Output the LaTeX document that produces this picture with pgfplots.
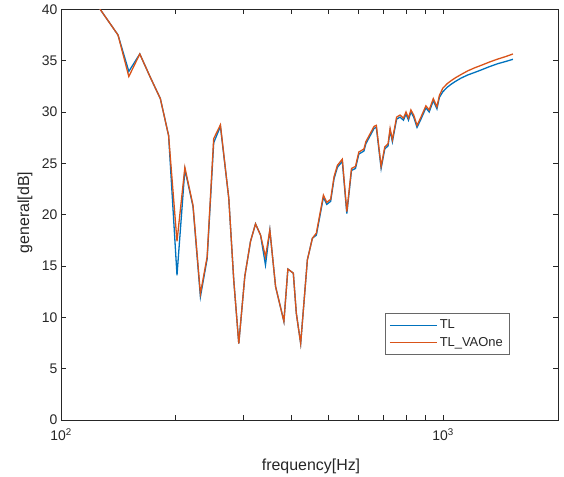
\documentclass[border=0pt]{standalone}
\usepackage{pgfplots}
\pgfplotsset{compat=1.18}
\usepackage{fontspec}
\setmainfont{Liberation Sans}
\definecolor{mblue}{rgb}{0,0.447,0.741}
\definecolor{morange}{rgb}{0.85,0.325,0.098}
\definecolor{axgray}{rgb}{0.15,0.15,0.15}

\pgfplotstableread{
f v
118 42.0
126.6 40.0
141 37.5
150.5 33.95
160.8 35.65
171.2 33.4
182 31.3
191.3 27.7
201.2 14.1
211 24.4
221.6 20.8
231.7 12.0
241.3 15.7
251 27.0
261.4 28.6
274.9 21.6
283.3 13.6
292 7.45
302.8 14.0
313.4 17.4
323 19.1
333 18.0
343 15.1
352.1 18.5
364.5 13.0
383.3 9.6
392.6 14.7
405.6 14.3
413 10.4
424 7.45
441.5 15.6
455 17.7
466 18.0
486.3 21.7
496.2 21.0
508 21.3
518.5 23.5
529 24.6
545 25.2
560 20.1
576 24.3
590 24.5
602 25.9
621 26.2
628 26.9
660 28.4
669 28.5
688.6 24.5
704 26.4
718 26.7
727 28.2
737 27.1
756 29.3
772 29.5
788 29.2
800 29.8
812 29.2
824 30.0
838 29.5
855 28.5
873 29.2
902 30.4
920 30.0
943 31.1
964 30.3
978 31.4
998 31.95
1025 32.4
1050 32.7
1080 33.0
1115 33.3
1160 33.6
1210 33.85
1260 34.1
1320 34.4
1390 34.7
1460 34.92
1524 35.13
}\dataTL

\pgfplotstableread{
f v
118 42.0
126.6 40.0
141 37.5
150.5 33.45
160.8 35.65
171.2 33.4
182 31.3
191.3 27.7
201.2 17.4
211 24.6
221.6 20.9
231.7 12.3
241.3 15.9
251 27.4
261.4 28.75
274.9 21.6
283.3 13.6
292 7.45
302.8 14.0
313.4 17.4
323 19.1
333 18.0
343 15.9
352.1 18.5
364.5 13.0
383.3 9.6
392.6 14.7
405.6 14.3
413 10.4
424 7.45
441.5 15.6
455 17.7
466 18.2
486.3 21.9
496.2 21.2
508 21.5
518.5 23.7
529 24.8
545 25.4
560 20.3
576 24.5
590 24.7
602 26.1
621 26.4
628 27.1
660 28.6
669 28.7
688.6 24.7
704 26.6
718 26.9
727 28.4
737 27.3
756 29.5
772 29.7
788 29.4
800 30.0
812 29.4
824 30.2
838 29.7
855 28.7
873 29.4
902 30.6
920 30.2
943 31.3
964 30.5
978 31.6
998 32.3
1025 32.75
1050 33.05
1080 33.35
1115 33.65
1160 34.0
1210 34.3
1260 34.55
1320 34.85
1390 35.15
1460 35.4
1524 35.65
}\dataVA

\begin{document}
\begin{tikzpicture}
\useasboundingbox (-61bp,-57bp) rectangle (503bp,420bp);
\begin{axis}[
  at={(0,0)}, anchor=south west,
  scale only axis,
  width=497bp, height=410.7bp,
  xmode=log,
  xmin=100, xmax=2000,
  ymin=0, ymax=40,
  xtick={100,200,300,400,500,600,700,800,900,1000,2000},
  xticklabels={10\textsuperscript{2},,,,,,,,,10\textsuperscript{3},},
  ytick={0,5,...,40},
  /pgf/number format/assume math mode=true,
  tick align=inside,
  major tick length=5bp,
  axis line style={axgray, line width=0.6bp},
  xtick style={draw=axgray, line width=1bp},
  ytick style={draw=axgray, line width=0.8bp},
  tick label style={font=\fontsize{14}{16}\selectfont, text=axgray},
  xticklabel style={yshift=-5bp},
  label style={font=\fontsize{16}{18}\selectfont, text=axgray},
  xlabel={frequency[Hz]},
  ylabel={general[dB]},
  xlabel style={at={(axis description cs:0.503,-0.112)}, anchor=center},
  ylabel style={at={(axis description cs:-0.0724,0.505)}, anchor=center},
  legend style={at={(axis description cs:0.652,0.261)}, anchor=north west,
    draw=axgray!70, line width=0.8bp, fill=white,
    font=\fontsize{13}{15}\selectfont, text=axgray,
    inner xsep=4bp, inner ysep=4bp, row sep=2bp,
    nodes={inner sep=2.5bp}},
  legend cell align=left,
  legend image code/.code={\draw[#1, line width=0.8bp] (0bp,0bp) -- (47bp,0bp);},
]
\addplot[mblue, line width=1.3bp] table[x=f,y=v] {\dataTL};
\addlegendentry{TL}
\addplot[morange, line width=1.3bp] table[x=f,y=v] {\dataVA};
\addlegendentry{TL\_VAOne}
\node[anchor=center, font=\fontsize{12}{14}\selectfont, text=axgray, inner sep=0pt] at (axis description cs:0.465,1.007) {–};
\end{axis}
\end{tikzpicture}
\end{document}
